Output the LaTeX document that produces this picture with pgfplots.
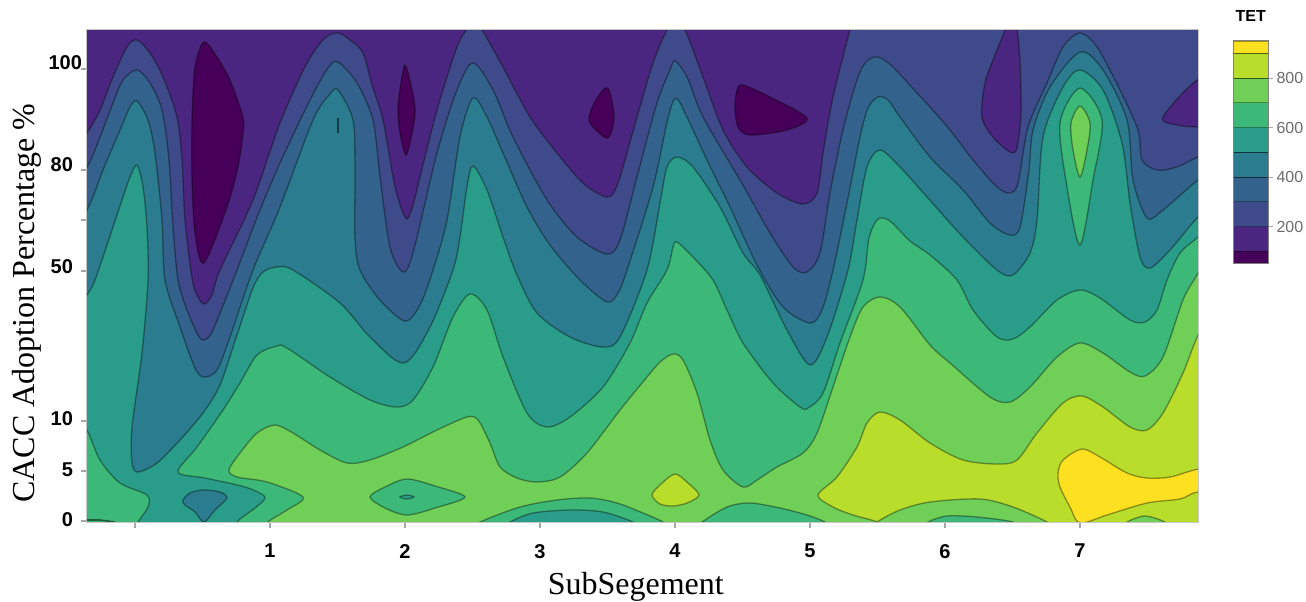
\documentclass[border=0pt]{standalone}
\usepackage{fontspec}
\setmainfont{Liberation Serif}
\newfontfamily\arialf{Liberation Sans}
\usepackage{pgfplots}
\pgfplotsset{compat=1.18}
\definecolor{c0}{HTML}{47005A}
\definecolor{c1}{HTML}{4B2680}
\definecolor{c2}{HTML}{3F4A8A}
\definecolor{c3}{HTML}{33638D}
\definecolor{c4}{HTML}{2B7C8E}
\definecolor{c5}{HTML}{2A9D8A}
\definecolor{c6}{HTML}{3CB878}
\definecolor{c7}{HTML}{70CF57}
\definecolor{c8}{HTML}{B8DD2B}
\definecolor{c9}{HTML}{FDE020}
\pgfplotsset{contour/.style={draw=black,draw opacity=0.38,line width=0.65pt,fill=#1}}
% filled area under a contour: colour, left x, right x, contour points
\newcommand{\band}[4]{\addplot[contour=#1,smooth] coordinates {#4} -- (axis cs:#3,560) -- (axis cs:#2,560) -- cycle;}
\newcommand{\blob}[2]{\addplot[contour=#1,smooth cycle] coordinates {#2};}
\begin{document}
\begin{tikzpicture}
\useasboundingbox (-43.5pt,-39.5pt) rectangle (609.5pt,261pt);
\begin{axis}[
  scale only axis, width=555.5pt, height=246.5pt,
  xmin=87, xmax=1198, ymin=29, ymax=522, y dir=reverse,
  axis line style={draw=gray!45,line width=0.5pt},
  tick style={draw=gray!70,line width=0.6pt},
  tick align=outside, major tick length=3pt,
  xtick={135,270,405,540,675,810,945,1080},
  xticklabels={,{\raisebox{3pt}{1}},2,3,{\raisebox{3pt}{4}},5,6,7},
  ytick={69,170,220,271,421,471,521},
  yticklabels={{\raisebox{6pt}{100\kern-4.5pt}},{\raisebox{5.5pt}{80}},,{\raisebox{4.5pt}{50}},{\raisebox{2pt}{10}},{\raisebox{1.5pt}{5}},{\raisebox{1pt}{0}}},
  x tick label style={font=\arialf\bfseries\fontsize{10}{10}\selectfont,yshift=-4.5pt},
  y tick label style={font=\arialf\bfseries\fontsize{10}{10}\selectfont,xshift=-0.5pt},
  xtick pos=bottom, ytick pos=left,
  xlabel={SubSegement}, ylabel={CACC Adoption Percentage \%},
  xlabel style={font=\fontsize{16}{16}\selectfont,at={(axis description cs:0.494,-0.132)},anchor=center},
  ylabel style={font=\fontsize{16}{16}\selectfont,at={(axis description cs:-0.054,0.444)},anchor=center},
  axis on top,
]
\addplot[fill=c1,draw=none] coordinates {(87,29)(1198,29)(1198,522)(87,522)} -- cycle;
% islands of the lowest band
\blob{c0}{(204,42)(217,57)(230,80)(243,117)(243,133)(238,167)(227,207)(204,263)(195,233)(192,180)(192,120)(195,67)}
\blob{c0}{(406,66)(415,107)(412,133)(406,155)(400,133)(398,107)(402,77)}
\blob{c0}{(608,88)(614,117)(608,138)(593,127)(589,117)(597,98)}
\blob{c0}{(743,85)(770,97)(807,118)(787,130)(750,135)(738,127)(735,107)(737,90)}
% contour bands
\band{c2}{60}{1240}{(60,170)(87,133)(100,110)(113,77)(127,47)(137,40)(150,53)(163,77)(177,117)(182,160)(185,220)(192,278)(197,295)(204,304)(212,295)(220,270)(253,200)(280,123)(307,63)(325,38)(338,33)(350,40)(363,53)(372,85)(383,120)(393,177)(400,205)(407,219)(413,205)(420,177)(437,110)(457,47)(468,28)(475,25)(482,30)(503,67)(530,117)(557,153)(583,183)(607,197)(618,183)(637,117)(653,63)(667,30)(675,24)(685,30)(703,77)(723,130)(747,167)(777,193)(803,204)(817,193)(823,153)(833,97)(850,30)(860,0)(880,-20)(1240,-20)}
\blob{c1}{(1005,30)(1010,10)(1017,30)(1020,63)(1021,113)(1017,148)(1010,152)(993,137)(982,117)(985,83)(997,50)}
\blob{c1}{(1197,80)(1163,117)(1177,125)(1197,127)(1230,128)(1230,70)}
\band{c3}{60}{1240}{(60,205)(87,167)(100,137)(113,103)(123,80)(137,70)(150,83)(162,110)(169,160)(173,227)(178,280)(187,310)(198,335)(204,340)(213,330)(237,270)(258,215)(280,163)(310,100)(328,68)(338,62)(357,83)(373,120)(380,177)(390,247)(403,272)(413,253)(437,153)(457,90)(473,63)(493,90)(513,137)(547,200)(577,237)(607,254)(620,240)(637,177)(657,103)(670,70)(675,61)(687,77)(703,117)(740,180)(770,233)(793,267)(807,272)(820,253)(830,193)(843,130)(857,80)(866,62)(878,57)(893,67)(917,93)(930,107)(950,130)(973,160)(997,187)(1010,193)(1018,183)(1028,127)(1047,83)(1063,47)(1080,33)(1097,47)(1120,90)(1138,130)(1142,160)(1157,170)(1177,167)(1198,157)(1240,140)}
\band{c4}{60}{1240}{(60,250)(87,210)(103,170)(120,130)(130,107)(137,101)(148,120)(155,153)(162,220)(165,280)(180,327)(195,368)(204,377)(217,370)(230,337)(253,270)(280,207)(313,120)(330,94)(338,90)(353,120)(355,170)(355,237)(360,270)(380,300)(405,321)(420,305)(433,270)(447,220)(460,137)(473,98)(487,117)(503,153)(527,207)(550,245)(580,280)(607,302)(618,293)(627,270)(653,187)(668,118)(676,98)(687,117)(707,160)(730,207)(757,265)(783,307)(810,323)(822,310)(833,270)(847,203)(860,137)(868,108)(878,97)(888,100)(900,117)(930,157)(963,190)(990,223)(1010,235)(1020,227)(1029,170)(1033,130)(1050,87)(1080,52)(1103,70)(1127,120)(1133,180)(1147,218)(1163,210)(1198,180)(1240,150)}
\addplot[draw=black,draw opacity=0.5,line width=0.8pt] coordinates {(338,118)(338,133)};
\band{c5}{60}{1240}{(60,340)(87,295)(95,280)(113,227)(122,200)(130,177)(137,165)(143,187)(147,227)(148,280)(142,353)(132,427)(132,463)(138,472)(157,463)(180,440)(203,413)(220,385)(237,335)(253,288)(263,272)(277,267)(293,270)(340,303)(370,337)(404,363)(430,327)(453,270)(460,237)(467,187)(473,166)(487,190)(503,237)(517,275)(537,313)(570,337)(603,347)(620,337)(647,270)(660,203)(667,167)(677,157)(693,167)(720,207)(743,253)(760,275)(787,330)(810,365)(827,337)(848,270)(857,220)(867,167)(880,150)(900,167)(927,197)(963,237)(997,270)(1013,275)(1030,253)(1037,220)(1043,137)(1063,87)(1080,70)(1103,90)(1122,143)(1130,203)(1140,257)(1150,268)(1170,250)(1198,217)(1240,175)}
\blob{c6}{(1080,88)(1102,120)(1093,180)(1080,245)(1067,187)(1060,123)}
\blob{c7}{(1080,106)(1090,123)(1087,150)(1080,177)(1073,150)(1071,123)}
\band{c6}{60}{132}{(60,380)(87,430)(100,460)(120,483)(147,495)(148,507)(138,522)(132,535)}
\addplot[draw=black,draw opacity=0.5,line width=0.8pt] coordinates {(87,520)(100,520)(115,522)};
\blob{c4}{(183,500)(190,493)(203,490)(220,492)(227,498)(215,510)(204,522)(195,512)(185,505)}
\band{c6}{230}{1240}{(230,540)(237,522)(255,508)(265,497)(245,487)(205,478)(178,472)(197,447)(223,410)(240,383)(257,355)(277,346)(287,348)(330,377)(370,400)(397,407)(413,400)(433,367)(453,317)(470,294)(487,310)(503,357)(527,413)(547,427)(570,417)(603,387)(630,343)(647,303)(667,270)(673,247)(677,242)(693,257)(713,280)(727,310)(743,343)(773,383)(800,407)(808,408)(823,393)(840,343)(863,280)(869,238)(878,219)(890,221)(910,241)(930,255)(957,280)(973,310)(997,337)(1013,339)(1030,327)(1057,300)(1080,290)(1100,298)(1130,320)(1145,322)(1157,310)(1167,280)(1180,253)(1198,237)(1240,200)}
\band{c7}{262}{1240}{(262,535)(268,522)(287,510)(303,497)(267,482)(237,477)(229,470)(240,453)(257,433)(275,425)(293,433)(320,450)(347,463)(370,460)(403,447)(437,430)(467,417)(478,420)(490,443)(500,467)(517,478)(537,482)(560,477)(587,453)(620,410)(647,377)(660,362)(673,354)(683,360)(697,393)(710,440)(723,470)(743,487)(757,480)(777,467)(803,453)(817,433)(833,387)(850,337)(863,307)(880,297)(900,307)(930,345)(950,363)(990,397)(1010,402)(1030,387)(1057,357)(1080,343)(1103,353)(1130,372)(1145,376)(1163,357)(1183,300)(1198,273)(1240,200)}
\blob{c6}{(370,497)(385,487)(407,479)(435,486)(465,497)(435,508)(407,515)(385,508)}
\blob{c5}{(400,497)(407,495)(414,497)(407,499)}
\band{c6}{470}{673}{(470,530)(480,522)(520,507)(557,500)(590,498)(617,503)(643,513)(663,522)(673,530)}
\band{c5}{500}{643}{(500,530)(510,522)(533,513)(570,510)(603,512)(633,522)(643,530)}
\band{c6}{692}{835}{(692,530)(702,522)(727,507)(750,503)(780,508)(807,515)(825,522)(835,530)}
\blob{c8}{(652,495)(660,485)(675,474)(688,483)(699,495)(687,503)(673,506)(660,504)}
\band{c8}{900}{1240}{(900,535)(877,522)(853,515)(833,507)(818,495)(837,477)(857,447)(867,423)(880,412)(900,420)(930,443)(963,460)(997,464)(1017,460)(1037,433)(1063,403)(1082,396)(1103,407)(1130,427)(1147,430)(1163,413)(1183,373)(1198,335)(1240,240)}
\band{c7}{870}{1055}{(870,530)(877,522)(900,510)(930,502)(980,499)(1013,507)(1047,522)(1055,530)}
\band{c6}{920}{1020}{(920,530)(928,522)(947,516)(977,517)(1013,522)(1020,530)}
\band{c7}{1120}{1172}{(1120,530)(1127,522)(1145,516)(1165,522)(1172,530)}
\blob{c9}{(1058,473)(1063,460)(1082,449)(1100,457)(1127,473)(1147,478)(1170,477)(1198,469)(1240,462)(1240,490)(1198,492)(1180,499)(1147,503)(1107,515)(1080,523)(1070,507)(1060,487)}
\end{axis}
\begin{axis}[
  at={(573pt,129.5pt)}, anchor=south west,
  scale only axis, width=17.75pt, height=111pt,
  xmin=0, xmax=1, ymin=53, ymax=950,
  xtick=\empty, ytick={200,400,600,800}, ytick pos=right,
  tick align=outside, major tick length=2pt,
  tick style={draw=gray!70},
  axis line style={draw=gray,line width=0.5pt},
  /pgf/number format/assume math mode=true,
  y tick label style={font=\arialf\fontsize{8}{8}\selectfont,text=gray!85!black,xshift=-1.5pt},
  title={\arialf\bfseries\fontsize{8}{8}\selectfont TET},
  title style={at={(0.5,1)},anchor=south,yshift=3.5pt,inner sep=0pt},
  axis on top,
]
\addplot[fill=c0,draw=none] coordinates {(0,53)(1,53)(1,100)(0,100)} -- cycle;
\addplot[fill=c1,draw=black,draw opacity=0.35] coordinates {(0,100)(1,100)(1,200)(0,200)} -- cycle;
\addplot[fill=c2,draw=black,draw opacity=0.35] coordinates {(0,200)(1,200)(1,300)(0,300)} -- cycle;
\addplot[fill=c3,draw=black,draw opacity=0.35] coordinates {(0,300)(1,300)(1,400)(0,400)} -- cycle;
\addplot[fill=c4,draw=black,draw opacity=0.35] coordinates {(0,400)(1,400)(1,500)(0,500)} -- cycle;
\addplot[fill=c5,draw=black,draw opacity=0.35] coordinates {(0,500)(1,500)(1,600)(0,600)} -- cycle;
\addplot[fill=c6,draw=black,draw opacity=0.35] coordinates {(0,600)(1,600)(1,700)(0,700)} -- cycle;
\addplot[fill=c7,draw=black,draw opacity=0.35] coordinates {(0,700)(1,700)(1,800)(0,800)} -- cycle;
\addplot[fill=c8,draw=black,draw opacity=0.35] coordinates {(0,800)(1,800)(1,900)(0,900)} -- cycle;
\addplot[fill=c9,draw=black,draw opacity=0.35] coordinates {(0,900)(1,900)(1,950)(0,950)} -- cycle;
\end{axis}
\end{tikzpicture}
\end{document}
